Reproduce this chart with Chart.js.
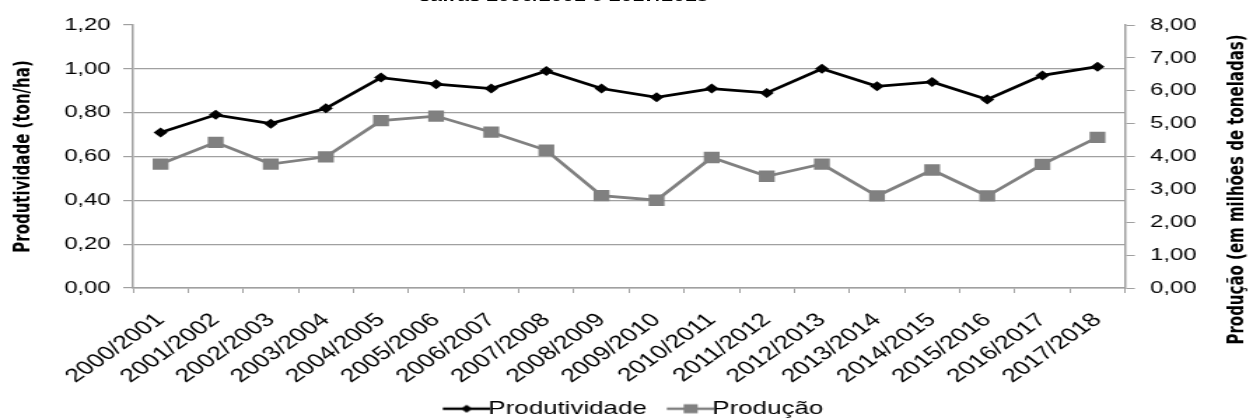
<!DOCTYPE html>
<html><head><meta charset="utf-8">
<script src="https://cdn.jsdelivr.net/npm/chart.js@4"></script>
<style>
html,body{margin:0;padding:0;background:#fff;overflow:hidden;width:1250px;height:419px}
#wrap{position:absolute;left:0;top:0;width:893px;height:419px;transform:scaleX(1.4);transform-origin:0 0}
#ttl{position:absolute;left:0;width:805px;top:-12px;text-align:center;font:bold 15px "Liberation Sans",Arial,sans-serif;line-height:15px;color:#000;white-space:nowrap}
canvas{position:absolute;left:0;top:0}
</style></head><body>
<div id="wrap"><canvas id="c" width="893" height="419"></canvas><div id="ttl">safras 2000/2001 e 2017/2018</div></div>
<script>
const categories = ['2000/2001','2001/2002','2002/2003','2003/2004','2004/2005','2005/2006','2006/2007','2007/2008','2008/2009','2009/2010','2010/2011','2011/2012','2012/2013','2013/2014','2014/2015','2015/2016','2016/2017','2017/2018'];
const produtividade = [0.71,0.79,0.75,0.82,0.96,0.93,0.91,0.99,0.91,0.87,0.91,0.89,1.00,0.92,0.94,0.86,0.97,1.01];
const producao = [3.77,4.43,3.77,3.99,5.09,5.23,4.74,4.19,2.81,2.67,3.97,3.40,3.77,2.80,3.59,2.80,3.76,4.58];
const leftTicks = [0,0.2,0.4,0.6,0.8,1.0,1.2];
const rightTicks = [0,1,2,3,4,5,6,7,8];
const seriesNames = ['Produtividade','Produção'];
const leftTitle = 'Produtividade (ton/ha)';
const rightTitle = 'Produção (em milhões de toneladas)';

const GRID = '#a0a0a0';
const fmt = v => v.toFixed(2).replace('.', ',');

function legendIcon(color, kind) {
  const c = document.createElement('canvas');
  c.width = 56; c.height = 14;
  const g = c.getContext('2d');
  g.strokeStyle = color; g.fillStyle = color; g.lineWidth = 2.5;
  const a = 22;
  g.beginPath(); g.moveTo(a, 7); g.lineTo(a + 34, 7); g.stroke();
  const cx = a + 17, cy = 7;
  g.beginPath();
  if (kind === 'diamond') {
    g.moveTo(cx, cy - 4); g.lineTo(cx + 4, cy); g.lineTo(cx, cy + 4); g.lineTo(cx - 4, cy); g.closePath(); g.fill();
  } else {
    g.fillRect(cx - 5, cy - 4.5, 10, 9);
  }
  return c;
}
const icons = [legendIcon('#000000', 'diamond'), legendIcon('#808080', 'square')];

const rightTitlePlugin = {
  id: 'rightTitle',
  afterDraw(chart) {
    const s = chart.scales.y1, a = chart.chartArea, ctx = chart.ctx;
    ctx.save();
    ctx.translate(s.right - 9, (a.top + a.bottom) / 2 + 33);
    ctx.rotate(-Math.PI / 2);
    ctx.font = 'bold 15px "DejaVu Sans"';
    ctx.fillStyle = '#000';
    ctx.textAlign = 'center';
    ctx.textBaseline = 'middle';
    ctx.fillText(rightTitle, 0, 0);
    ctx.restore();
  }
};

const PAD_BOTTOM = -9;

new Chart(document.getElementById('c'), {
  type: 'line',
  data: {
    labels: categories,
    datasets: [
      { label: seriesNames[0], data: produtividade, yAxisID: 'y', borderColor: '#000', backgroundColor: '#000',
        borderWidth: 2.75, pointStyle: 'rectRot', pointRadius: 5, pointBorderWidth: 0, tension: 0 },
      { label: seriesNames[1], data: producao, yAxisID: 'y1', borderColor: '#808080', backgroundColor: '#808080',
        borderWidth: 2.75, pointStyle: 'rect', pointRadius: 8, pointBorderWidth: 0, tension: 0 }
    ]
  },
  options: {
    responsive: false,
    animation: false,
    layout: { padding: { top: 25, left: 0, right: 0, bottom: PAD_BOTTOM } },
    plugins: {
      tooltip: { enabled: false },
      legend: {
        position: 'bottom',
        labels: {
          usePointStyle: true,
          pointStyleWidth: 34.6,
          padding: 3,
          color: '#000',
          font: { family: '"Liberation Sans", Arial, sans-serif', size: 18.5 },
          generateLabels: chart => chart.data.datasets.map((d, i) => ({
            text: d.label, pointStyle: icons[i], fillStyle: d.borderColor, strokeStyle: d.borderColor,
            lineWidth: 0, hidden: false, datasetIndex: i, fontColor: '#000'
          }))
        }
      }
    },
    scales: {
      x: {
        offset: true,
        grid: { offset: true, drawOnChartArea: false, drawTicks: true, tickLength: 5, tickColor: GRID },
        border: { color: GRID, width: 1.5 },
        ticks: { color: '#000', minRotation: 44, maxRotation: 44, padding: 16, autoSkip: false,
          font: { family: '"Liberation Sans", Arial, sans-serif', size: 19 } },
        afterFit: s => { const lh = s.chart.legend ? s.chart.legend.height : 25; s.height = 419 - PAD_BOTTOM - 288 - lh; }
      },
      y: {
        position: 'left', min: 0, max: 1.2,
        afterBuildTicks: s => { s.ticks = leftTicks.map(v => ({ value: v })); },
        grid: { color: c => (c.tick && c.tick.value > 1.19 ? 'rgba(0,0,0,0)' : GRID), tickColor: GRID, tickLength: 7, lineWidth: 1.2 },
        border: { color: GRID, width: 1.5 },
        ticks: { color: '#000', padding: 9, callback: v => fmt(v),
          font: { family: '"Liberation Sans", Arial, sans-serif', size: 17 } },
        title: { display: true, text: leftTitle, color: '#000', padding: { top: 8, bottom: 0 },
          font: { family: '"DejaVu Sans"', weight: 'bold', size: 15 } },
        afterFit: s => { s.width = 95; }
      },
      y1: {
        position: 'right', min: 0, max: 8,
        afterBuildTicks: s => { s.ticks = rightTicks.map(v => ({ value: v })); },
        grid: { drawOnChartArea: false, tickColor: GRID, tickLength: 7 },
        border: { color: GRID, width: 1.5 },
        ticks: { color: '#000', padding: 11, callback: v => fmt(v),
          font: { family: '"Liberation Sans", Arial, sans-serif', size: 17 } },
        afterFit: s => { s.width = 893 - 803.6; }
      }
    }
  },
  plugins: [rightTitlePlugin]
});
</script>
</body></html>
